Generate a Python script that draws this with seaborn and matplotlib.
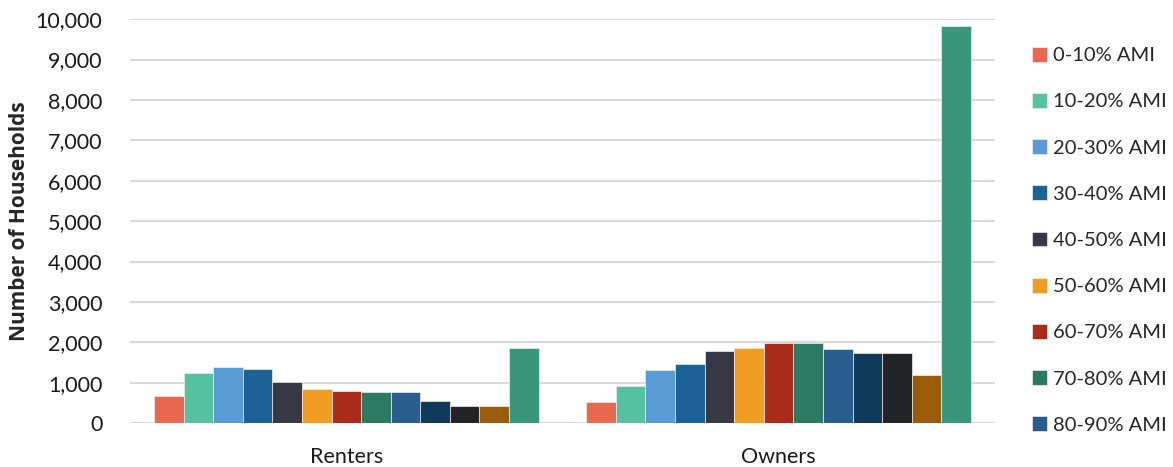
import numpy as np
import pandas as pd
import matplotlib.pyplot as plt
import seaborn as sns
from matplotlib.ticker import FuncFormatter

# Data
tenure = ["Renters", "Owners"]
bands = ["0-10% AMI", "10-20% AMI", "20-30% AMI", "30-40% AMI", "40-50% AMI",
         "50-60% AMI", "60-70% AMI", "70-80% AMI", "80-90% AMI", "90-100% AMI",
         "100-110% AMI", "110-120% AMI", "Above 120% AMI"]
renters = [660, 1230, 1390, 1330, 1020, 840, 790, 770, 770, 540, 430, 430, 1850]
owners = [530, 910, 1310, 1460, 1775, 1860, 1975, 1975, 1825, 1725, 1725, 1195, 9825]
colors = ["#E8684F", "#57C0A0", "#5B9BD5", "#1B6296", "#363845", "#F09C22",
          "#A82C19", "#2C7A62", "#295D8D", "#0F3A5A", "#232428", "#9A5B0A", "#3A977C"]

df = pd.DataFrame({
    "Tenure": ["Renters"] * len(bands) + ["Owners"] * len(bands),
    "Band": bands * 2,
    "Households": renters + owners,
})

sns.set_theme(style="white")
plt.rcParams["font.family"] = ["Lato", "DejaVu Sans"]

fig = plt.figure(figsize=(11.73, 4.67), dpi=100)
ax = fig.add_axes([0.111, 0.094, 0.737, 0.865])

sns.barplot(data=df, x="Tenure", y="Households", hue="Band", order=tenure,
            hue_order=bands, palette=colors, saturation=1, width=0.89, ax=ax,
            edgecolor="#eeeeee", linewidth=0.5, legend=True, errorbar=None)

ax.set_ylim(0, 10000)
ax.set_yticks(np.arange(0, 10001, 1000))
ax.yaxis.set_major_formatter(FuncFormatter(lambda v, p: f"{int(v):,}"))
ax.grid(axis="y", color="#D9D9D9", linewidth=1.5)
ax.set_axisbelow(True)
for s in ax.spines.values():
    s.set_visible(False)
ax.tick_params(axis="both", length=0, labelsize=15.5, colors="#1a1a1a")
ax.tick_params(axis="x", pad=17)
ax.tick_params(axis="y", pad=20)
ax.set_xlabel("")
ax.set_ylabel("Number of Households", fontsize=15, fontweight="bold",
              family=["Open Sans", "DejaVu Sans"], labelpad=4)

handles, labels = ax.get_legend_handles_labels()
ax.get_legend().remove()
fig.legend(handles[:9], labels[:9], loc="upper left", bbox_to_anchor=(0.873, 0.917),
           borderaxespad=0, frameon=False, fontsize=14.5, labelspacing=1.43,
           handlelength=0.75, handleheight=0.75, handletextpad=0.3)

fig.savefig("out.png", dpi=100)
